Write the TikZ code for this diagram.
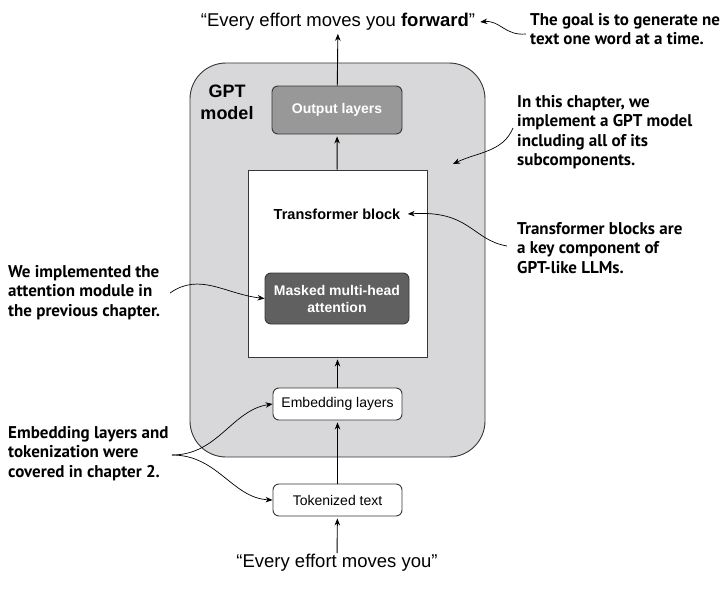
\documentclass[tikz,border=0pt]{standalone}
\usepackage{fontspec}
\setmainfont{Liberation Sans}
\newfontfamily\notefont{PT Sans}
\usepackage{tikz}
\usetikzlibrary{calc,positioning,arrows,arrows.meta,shapes}
\definecolor{gptgray}{RGB}{216,215,217}
\definecolor{outgray}{RGB}{152,152,152}
\definecolor{attngray}{RGB}{96,96,96}
\definecolor{edgegray}{RGB}{55,55,55}
\tikzstyle{layer}     = [draw=edgegray, rounded corners=6pt, line width=0.9pt, text centered, align=center]
\tikzstyle{arrow}     = [line width=0.9pt,-{Stealth[length=7pt,width=5.5pt]},shorten >=2pt]
\tikzstyle{curvy}     = [line width=0.7pt,-{Stealth[length=7pt,width=5.5pt]}]

\begin{document}
\begin{tikzpicture}[x=1pt,y=-1pt,font=\fontsize{14}{16}\selectfont,
			note/.style={anchor=north west, align=left, inner sep=0pt, font=\notefont\bfseries\fontsize{17}{19.5}\selectfont},
			phrase/.style={font=\fontsize{18.5}{21}\selectfont, inner sep=1pt},
		]
		\useasboundingbox (0,0) rectangle (720,594);

		% the GPT model container
		\node[draw=edgegray, line width=0.9pt, fill=gptgray, rounded corners=36pt, minimum width=295pt, minimum height=394pt] (gpt) at (337.5,260) {};
		\node[font=\bfseries\fontsize{18}{22}\selectfont, align=center] (gptlabel) at (227,102) {GPT\\model};

		\node[layer, fill=outgray, text=white, font=\bfseries\fontsize{14}{16}\selectfont, minimum width=130pt, minimum height=48pt] (outl) at (337,110) {Output layers};
		\node[draw=edgegray, line width=0.9pt, fill=white, minimum width=179pt, minimum height=187pt] (tblock) at (337.5,263.5) {};
		\node[font=\bfseries\fontsize{14.5}{16}\selectfont] (tlabel) at (337,214) {Transformer block};
		\node[layer, fill=attngray, text=white, font=\bfseries\fontsize{14}{17}\selectfont, minimum width=144pt, minimum height=51pt] (attn) at (337,298.5) {Masked multi-head\\attention};
		\node[layer, fill=white, minimum width=129pt, minimum height=32pt] (emb) at (337.5,404) {Embedding layers};
		\node[layer, fill=white, minimum width=129pt, minimum height=32pt] (tok) at (337.5,500) {Tokenized text};

		\node[phrase] (intext) at (337,563) {``Every effort moves you''};
		\node[phrase] (outtext) at (338,22) {``Every effort moves you \textbf{forward}''};

		\draw[arrow] (intext) -- (tok);
		\draw[arrow] (tok) -- (emb);
		\draw[arrow] (emb) -- (tblock);
		\draw[arrow] (tblock) -- (outl);
		\draw[arrow] (outl) -- (outtext);

		% side notes
		\node[note] (goal) at (530,13) {The goal is to generate new\\text one word at a time.};
		\node[note] (chapter) at (517,95) {In this chapter, we\\implement a GPT model\\including all of its\\subcomponents.};
		\node[note] (blocks) at (517,222) {Transformer blocks are\\a key component of\\GPT-like LLMs.};
		\node[note] (attnote) at (8,265) {We implemented the\\attention module in\\the previous chapter.};
		\node[note] (embnote) at (8,426) {Embedding layers and\\tokenization were\\covered in chapter 2.};

		\coordinate (goalend) at (526,34);
		\coordinate (chapterend) at (513,128);
		\coordinate (chaptertip) at (453,164);
		\coordinate (blocksend) at (507,246);
		\coordinate (attend) at (170,293);
		\coordinate (embend) at (172,455);

		\draw[curvy] (goalend) .. controls (505,36) and (500,20) .. ([xshift=4pt]outtext.east);
		\draw[curvy] (chapterend) .. controls (503,152) and (478,152) .. (chaptertip);
		\draw[curvy] (blocksend) .. controls (472,240) and (470,210) .. ([xshift=4pt]tlabel.east);
		\draw[curvy] (attend) .. controls (200,272) and (225,294) .. (attn.west);
		\draw[curvy] (embend) .. controls (218,455) and (232,410) .. (emb.west);
		\draw[curvy] (embend) .. controls (218,455) and (232,498) .. (tok.west);
	\end{tikzpicture}
\end{document}
